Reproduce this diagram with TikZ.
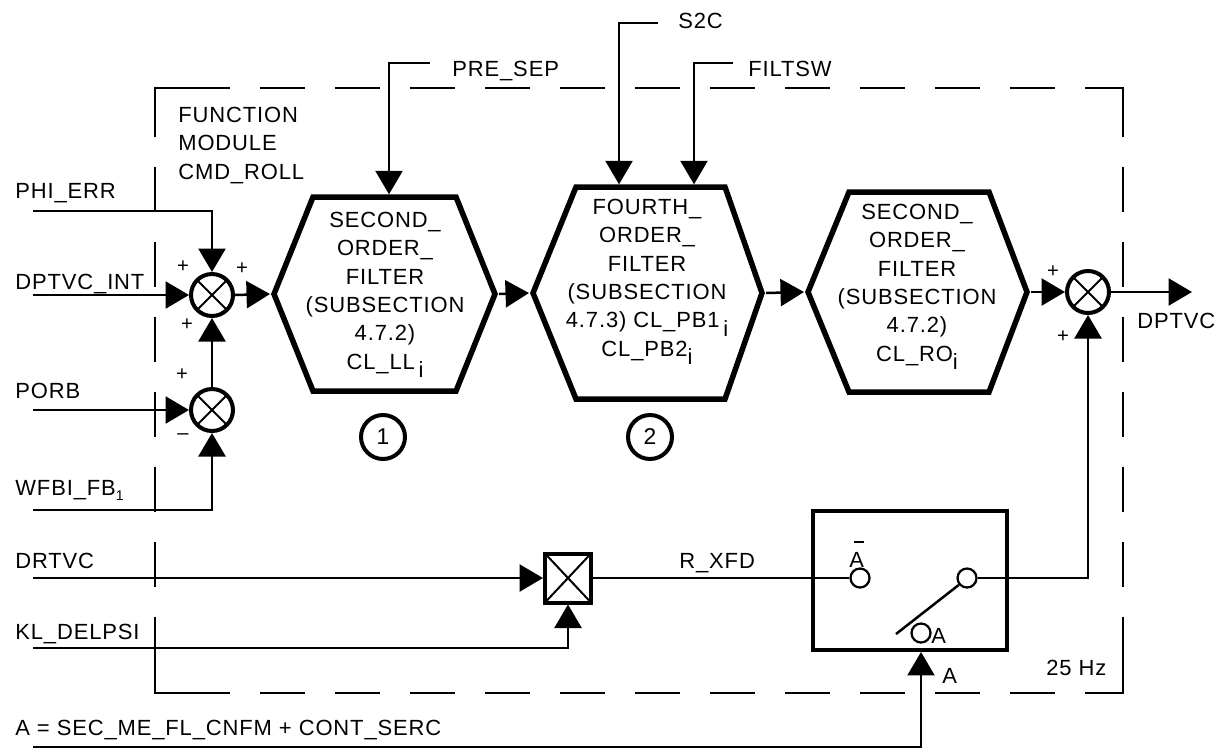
\documentclass[tikz,border=0pt]{standalone}
\usepackage{fontspec}
\setmainfont{Liberation Sans}[LetterSpace=4]
\usetikzlibrary{arrows.meta}
\begin{document}
\begin{tikzpicture}[x=0.02cm,y=-0.02cm,
  wire/.style={line width=0.05cm},
  arr/.style={wire,-{Triangle[length=0.47cm,width=0.54cm]}},
  hexa/.style={line width=0.11cm,line join=miter},
  ring/.style={circle,draw,line width=0.08cm,minimum size=0.84cm,inner sep=0pt},
  sumj/.style={ring,path picture={\draw[line width=0.04cm]
      (path picture bounding box.center) +(-20,-20) -- +(20,20)
      (path picture bounding box.center) +(-20,20) -- +(20,-20);}},
  numc/.style={ring,minimum size=0.88cm,font=\fontsize{13}{14}\selectfont},
  contact/.style={circle,draw,line width=0.045cm,minimum size=0.38cm,inner sep=0pt},
  lbl/.style={inner sep=0pt,anchor=base west,font=\fontsize{12.5}{16.1}\selectfont},
  htxt/.style={inner sep=0pt,anchor=north,align=center,font=\fontsize{12.5}{16.1}\selectfont},
  sgn/.style={inner sep=0pt,font=\fontsize{11.5}{13}\selectfont},
  dsh/.style={line width=0.05cm,dash pattern=on 0.9cm off 0.6cm},
  corner/.style={line width=0.05cm,line join=miter}
]
\useasboundingbox (0,0) rectangle (1222,748);

% dashed module frame
\draw[dsh,dash phase=0.9cm] (155,88) -- (1123,88);
\draw[dsh,dash phase=0.9cm] (155,693) -- (1123,693);
\draw[dsh,dash phase=1.42cm] (155,88) -- (155,693);
\draw[dsh,dash phase=1.42cm] (1123,88) -- (1123,693);
\draw[corner] (155,137) -- (155,88) -- (230,88);
\draw[corner] (155,617) -- (155,693) -- (230,693);
\draw[corner] (1123,617) -- (1123,693) -- (1085,693);
\draw[corner] (1085,88) -- (1123,88) -- (1123,137);

% hexagons
\draw[hexa] (274,294) -- (313,197) -- (456,197) -- (495,294) -- (456,391) -- (313,391) -- cycle;
\draw[hexa] (533,293) -- (576,187) -- (725,187) -- (762,293) -- (725,399) -- (576,399) -- cycle;
\draw[hexa] (808,292) -- (849,192) -- (989,192) -- (1027,292) -- (989,392) -- (849,392) -- cycle;
\coordinate (h1in) at (270,294);
\coordinate (h1out) at (499,294);
\coordinate (h1top) at (389,194.3);
\coordinate (h2in) at (529,293);
\coordinate (h2out) at (766,293);
\coordinate (h2topA) at (619,184.3);
\coordinate (h2topB) at (694,184.3);
\coordinate (h3in) at (804,292);
\coordinate (h3out) at (1031,292);

\node[htxt] (t1) at (385,212) {SECOND\_\\ORDER\_\\FILTER\\(SUBSECTION\\4.7.2)\\CL\_LL\,\raisebox{-5pt}{i}};
\node[htxt] (t2) at (647,199) {FOURTH\_\\ORDER\_\\FILTER\\(SUBSECTION\\4.7.3) CL\_PB1\,\raisebox{-5pt}{i}\\CL\_PB2\raisebox{-5pt}{i}};
\node[htxt] (t3) at (917,204) {SECOND\_\\ORDER\_\\FILTER\\(SUBSECTION\\4.7.2)\\CL\_RO\raisebox{-5pt}{i}};

\node[numc] (n1) at (383,437) {1};
\node[numc] (n2) at (650,437) {2};

% summing junctions
\node[sumj] (j1) at (212,295) {};
\node[sumj] (j2) at (212,410) {};
\node[sumj] (j3) at (1088,292) {};

% multiplier and switch
\node[draw,line width=0.08cm,minimum width=0.92cm,minimum height=0.98cm,inner sep=0pt,
  path picture={\draw[line width=0.04cm]
    (path picture bounding box.north west) -- (path picture bounding box.south east)
    (path picture bounding box.north east) -- (path picture bounding box.south west);}]
  (mb) at (568,578) {};
\node[draw,line width=0.08cm,minimum width=3.88cm,minimum height=2.78cm,inner sep=0pt] (sw) at (910,580.5) {};
\node[contact] (c1) at (860,578) {};
\node[contact] (c2) at (967,578) {};
\node[contact] (c3) at (921,633) {};
\coordinate (lev) at (896,634);
\draw[wire] (lev) -- (c2.220);

% input free ends
\coordinate (phL) at (33,211);
\coordinate (dpL) at (33,295);
\coordinate (poL) at (33,410);
\coordinate (wfL) at (33,510);
\coordinate (drL) at (33,578);
\coordinate (klL) at (33,648);
\coordinate (aL) at (33,747);
\coordinate (psE) at (430,63);
\coordinate (s2E) at (658,23);
\coordinate (fsE) at (733,63);
\coordinate (outE) at (1192,292);

% connectors
\draw[arr] (phL) -| (j1.north);
\draw[arr] (dpL) -- (j1.west);
\draw[arr] (poL) -- (j2.west);
\draw[arr] (wfL) -| (j2.south);
\draw[arr] (j2.north) -- (j1.south);
\draw[arr] (j1.east) -- (h1in);
\draw[arr] (psE) -| (h1top);
\draw[arr] (s2E) -| (h2topA);
\draw[arr] (fsE) -| (h2topB);
\draw[arr] (h1out) -- (h2in);
\draw[arr] (h2out) -- (h3in);
\draw[arr] (h3out) -- (j3.west);
\draw[arr] (j3.east) -- (outE);
\draw[arr] (drL) -- (mb.west);
\draw[arr] (klL) -| (mb.south);
\draw[wire] (mb.east) -- (c1.west);
\draw[arr] (c2.east) -| (j3.south);
\draw[arr] (aL) -| ([xshift=0.22cm]sw.south);

% labels
\node[lbl,anchor=north west,align=left] (fm) at (178,107) {FUNCTION\\MODULE\\CMD\_ROLL};
\node[lbl] (lphi) at (15,198) {PHI\_ERR};
\node[lbl] (ldpi) at (15,289) {DPTVC\_INT};
\node[lbl] (lporb) at (15,398) {PORB};
\node[lbl] (lwf) at (15,495) {WFBI\_FB\raisebox{-3pt}{\fontsize{8}{8}\selectfont 1}};
\node[lbl] (ldr) at (15,568) {DRTVC};
\node[lbl] (lkl) at (15,639) {KL\_DELPSI};
\node[lbl] (leq) at (15,735) {A = SEC\_ME\_FL\_CNFM + CONT\_SERC};
\node[lbl] (lps) at (452,76) {PRE\_SEP};
\node[lbl] (ls2) at (678,28) {S2C};
\node[lbl] (lfs) at (748,76) {FILTSW};
\node[lbl] (lrx) at (679,568) {R\_XFD};
\node[lbl] (lout) at (1137,328) {DPTVC};
\node[lbl] (lhz) at (1046,675) {25 Hz};
\node[lbl] (lA) at (942,683) {A};
\node[lbl] (lA2) at (931,643) {A};
\node[lbl] (lAbar) at (849,567) {\makebox[0pt][l]{\hspace{2.6pt}\raisebox{13.5pt}{\rule{5.5pt}{1.2pt}}}A};

% signs
\node[sgn] (p1) at (183,267) {+};
\node[sgn] (p2) at (242,269) {+};
\node[sgn] (p3) at (187,325) {+};
\node[sgn] (p4) at (182,375) {+};
\node[sgn] (m1) at (183,437) {–};
\node[sgn] (p5) at (1053,272) {+};
\node[sgn] (p6) at (1063,337) {+};
\end{tikzpicture}
\end{document}
